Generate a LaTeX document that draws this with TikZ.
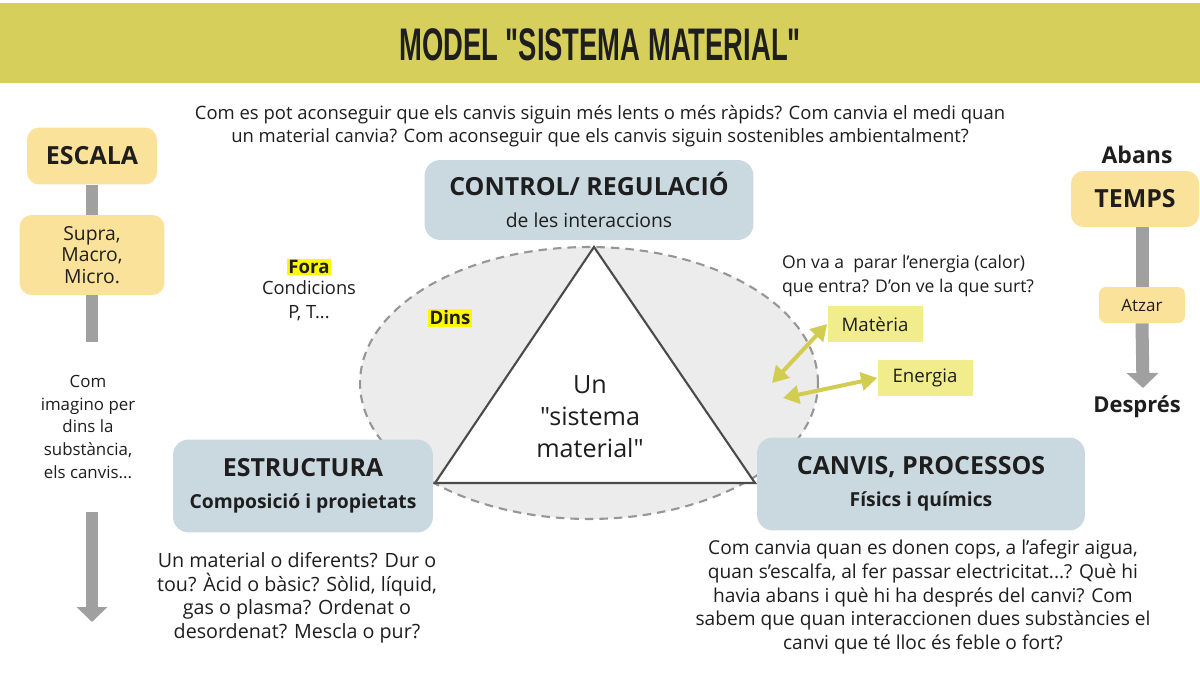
\documentclass[tikz,border=0pt]{standalone}
\usepackage{fontspec}
\setmainfont{Open Sans}[Ligatures=TeXOff]
\newfontfamily\titlefont[FakeStretch=0.6]{Liberation Sans}
\usetikzlibrary{arrows.meta}
\definecolor{band}{RGB}{214,207,92}
\definecolor{boxyellow}{RGB}{251,226,154}
\definecolor{boxblue}{RGB}{202,216,224}
\definecolor{tagyellow}{RGB}{242,237,140}
\definecolor{flowolive}{RGB}{210,204,80}
\definecolor{bargray}{RGB}{160,160,160}
\definecolor{inside}{RGB}{236,236,236}
\definecolor{rim}{RGB}{150,150,150}
\definecolor{hl}{RGB}{255,248,0}
\definecolor{ink}{RGB}{30,30,30}
\newcommand{\bodysize}[1]{\fontsize{#1}{13.4}\selectfont}
\newcommand{\headsize}{\bfseries\fontsize{14.2}{16}\selectfont}
\newcommand{\subsize}{\fontsize{11}{13.1}\selectfont}
\begin{document}
\begin{tikzpicture}[x=0.02cm, y=-0.02cm, text=ink]
    \tikzstyle{yellowbox}=[rectangle, rounded corners=7pt, fill=boxyellow, align=center]
    \tikzstyle{bluebox}=[rectangle, rounded corners=9pt, fill=boxblue, align=center]
    \tikzstyle{tag}=[rectangle, fill=tagyellow, minimum width=1.9cm, minimum height=0.72cm, font=\bodysize{10.6}]
    \tikzstyle{question}=[align=center, font=\bodysize{10.5}]
    \tikzstyle{hilite}=[fill=hl, inner sep=1pt, font=\bodysize{10.6}\bfseries]
    \tikzstyle{bar}=[draw=bargray, line width=0.26cm]
    \tikzstyle{flow}=[draw=flowolive, line width=0.08cm, {Triangle[width=0.36cm,length=0.32cm]}-{Triangle[width=0.36cm,length=0.32cm]}]

    \useasboundingbox (0,0) rectangle (1200,675);
    \fill[white] (0,0) rectangle (1200,675);
    \fill[band] (0,3) rectangle (1200,83);
    \node[font=\titlefont\bfseries\fontsize{26}{30}\selectfont] (title) at (600,45) {MODEL "SISTEMA MATERIAL"};

    \node[question] (topq) at (600,126) {Com es pot aconseguir que els canvis siguin més lents o més ràpids? Com canvia el medi quan\\
                                         un material canvia? Com aconseguir que els canvis siguin sostenibles ambientalment?};

    \draw[dash pattern=on 0.17cm off 0.12cm, draw=rim, line width=1.2pt, fill=inside] (589,383) ellipse [x radius=4.58cm, y radius=2.72cm];
    \draw[fill=white, draw=ink!80, line width=1.2pt] (594,247) -- (755,483) -- (435,483) -- cycle;
    \node[align=center, font=\fontsize{14.3}{18.2}\selectfont] (system) at (590,417) {Un\\ "sistema\\ material"};
    \node[hilite] (dins) at (450,318) {Dins};

    \node[bluebox, minimum width=6.58cm, minimum height=1.6cm] (control) at (589,200)
        {{\headsize CONTROL/ REGULACIÓ}\\[6pt] {\subsize de les interaccions}};
    \node[bluebox, minimum width=5.2cm, minimum height=1.86cm] (structure) at (303,486)
        {{\headsize ESTRUCTURA}\\[6pt] {\subsize\bfseries Composició i propietats}};
    \node[bluebox, minimum width=6.56cm, minimum height=1.86cm] (changes) at (921,484)
        {{\headsize CANVIS, PROCESSOS}\\[6pt] {\subsize\bfseries Físics i químics}};

    \node[hilite] (fora) at (309,267) {Fora};
    \node[question, font=\bodysize{10.4}] (conditions) at (309,301) {Condicions\\ P, T...};

    \node[question, font=\bodysize{11.2}] (structq) at (297,598) {Un material o diferents? Dur o\\ tou? Àcid o bàsic? Sòlid, líquid,\\ gas o plasma? Ordenat o\\ desordenat? Mescla o pur?};
    \node[question, font=\bodysize{10.9}] (changesq) at (923,597) {Com canvia quan es donen cops, a l’afegir aigua,\\ quan s’escalfa, al fer passar electricitat...? Què hi\\ havia abans i què hi ha després del canvi? Com\\ sabem que quan interaccionen dues substàncies el\\ canvi que té lloc és feble o fort?};
    \node[question, font=\bodysize{10}, align=left, anchor=west] (energyq) at (776,276) {On va a \ parar l’energia (calor)\\ que entra? D’on ve la que surt?};

    \node[tag] (matter) at (875,324) {Matèria};
    \node[tag] (energy) at (925,378) {Energia};
    \coordinate (matterin) at (772,383);
    \coordinate (energyin) at (783,398);
    \draw[flow] (matterin) -- (matter.west);
    \draw[flow] (energyin) -- (energy.west);

    \node[yellowbox, minimum width=2.6cm, minimum height=1.14cm, font=\headsize] (scale) at (92,156) {ESCALA};
    \node[yellowbox, minimum width=2.9cm, minimum height=1.6cm, font=\fontsize{11}{12.3}\selectfont] (levels) at (92,255) {Supra,\\ Macro,\\ Micro.};
    \coordinate (scaleend) at (92,342);
    \draw[bar] (scale.south) -- (levels.north);
    \draw[bar] (levels.south) -- (scaleend);
    \node[question, font=\fontsize{9.6}{12.9}\selectfont] (imagine) at (88,427) {Com\\ imagino per\\ dins la\\ substància,\\ els canvis...};
    \coordinate (downtop) at (92,512);
    \coordinate (downtip) at (92,622);
    \draw[bar, -{Triangle[width=0.6cm,length=0.3cm]}] (downtop) -- (downtip);

    \node[font=\bfseries\fontsize{13.1}{15}\selectfont] (before) at (1137,155) {Abans};
    \node[yellowbox, minimum width=2.56cm, minimum height=1.12cm, font=\headsize] (time) at (1135,199) {TEMPS};
    \node[yellowbox, rounded corners=4pt, minimum width=1.72cm, minimum height=0.72cm, font=\bodysize{9.7}] (chance) at (1142,305) {Atzar};
    \coordinate (timetip) at (1143,388);
    \draw[bar] (time.south -| chance) -- (chance.north);
    \draw[bar, -{Triangle[width=0.62cm,length=0.3cm]}] (chance.south) -- (timetip);
    \node[font=\bfseries\fontsize{12.5}{15}\selectfont] (after) at (1137,407) {Després};
\end{tikzpicture}
\end{document}
